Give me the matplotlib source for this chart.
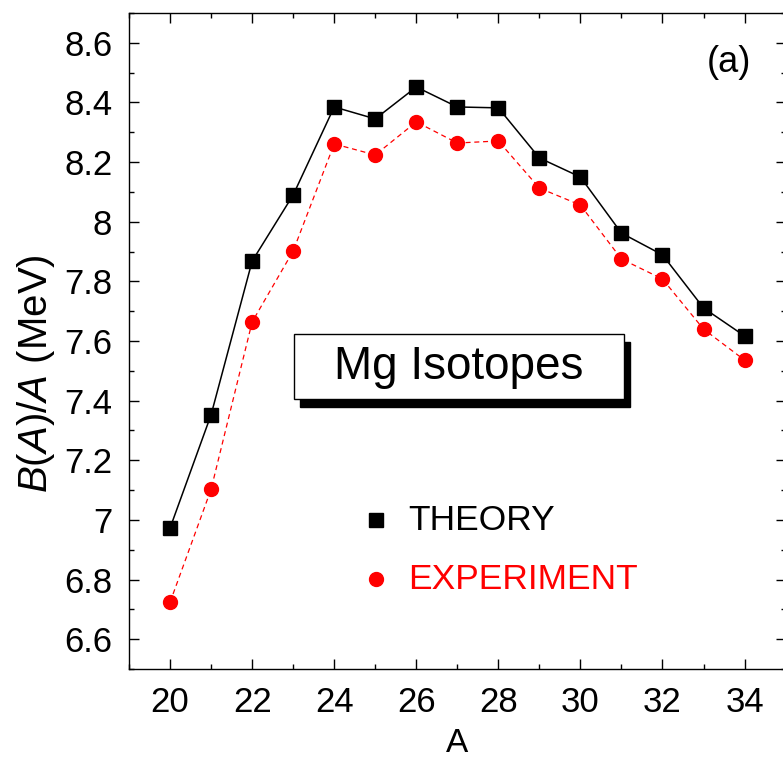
import matplotlib
matplotlib.use('Agg')
import matplotlib.pyplot as plt
from matplotlib.patches import Rectangle
from matplotlib.ticker import MultipleLocator

# binding energy per nucleon of the Mg chain
mass_number = [20, 21, 22, 23, 24, 25, 26, 27, 28, 29, 30, 31, 32, 33, 34]
theory = [6.973, 7.353, 7.868, 8.090, 8.385, 8.345, 8.452, 8.385, 8.382,
          8.214, 8.150, 7.962, 7.889, 7.711, 7.617]
experiment = [6.724, 7.103, 7.664, 7.902, 8.261, 8.224, 8.335, 8.264, 8.271,
              8.113, 8.056, 7.875, 7.808, 7.640, 7.536]
series_labels = ['THEORY', 'EXPERIMENT']

plt.rcParams['font.family'] = ['Liberation Sans', 'DejaVu Sans']
plt.rcParams['mathtext.fontset'] = 'custom'
plt.rcParams['mathtext.rm'] = 'Liberation Sans'
plt.rcParams['mathtext.it'] = 'Liberation Sans:italic'

fig = plt.figure(figsize=(7.83, 7.62), dpi=100)
ax = fig.add_axes([0.1648, 0.1220, 0.8385, 0.8609])

ax.plot(mass_number, theory, color='black', lw=1.1, marker='s', ms=9.5,
        zorder=3)
ax.plot(mass_number, experiment, color='red', lw=0.9, ls=(0, (4, 3)),
        marker='o', ms=10, zorder=3)

ax.set_xlim(19, 35)
ax.set_ylim(6.5, 8.7)
ax.xaxis.set_major_locator(MultipleLocator(2))
ax.xaxis.set_minor_locator(MultipleLocator(1))
ax.yaxis.set_minor_locator(MultipleLocator(0.1))
ax.set_yticks([6.6, 6.8, 7.0, 7.2, 7.4, 7.6, 7.8, 8.0, 8.2, 8.4, 8.6])
ax.set_yticklabels(['6.6', '6.8', '7', '7.2', '7.4', '7.6', '7.8', '8',
                    '8.2', '8.4', '8.6'])
ax.tick_params(which='both', direction='in', top=True, right=True,
               width=1.0, labelsize=25)
ax.tick_params(which='major', length=7)
ax.tick_params(which='minor', length=3.5)
ax.tick_params(axis='x', pad=12)
ax.tick_params(axis='y', pad=12)
for sp in ax.spines.values():
    sp.set_linewidth(1.0)

ax.set_xlabel('A', fontsize=24, labelpad=7)
ax.set_ylabel(r'$B$($A$)/$A$ (MeV)', fontsize=29)
ax.yaxis.set_label_coords(-0.11, 0.45)

ax.text(0.914, 0.924, '(a)', transform=ax.transAxes, fontsize=26,
        ha='center', va='center')

# title box with drop shadow
bx, by, bw, bh = 0.2508, 0.4116, 0.503, 0.0991
ax.add_patch(Rectangle((bx + 0.0092, by - 0.0122), bw, bh,
                       transform=ax.transAxes, facecolor='black',
                       edgecolor='black', zorder=4))
ax.add_patch(Rectangle((bx, by), bw, bh, transform=ax.transAxes,
                       facecolor='white', edgecolor='black', lw=1.0,
                       zorder=5))
ax.text(bx + bw / 2, by + bh / 2, 'Mg Isotopes', transform=ax.transAxes,
        fontsize=33, ha='center', va='center', zorder=6)

# legend keys
ax.plot([0.376], [0.227], transform=ax.transAxes, marker='s', ms=9.5,
        color='black', ls='none')
ax.plot([0.376], [0.137], transform=ax.transAxes, marker='o', ms=10,
        color='red', ls='none')
ax.text(0.425, 0.227, series_labels[0], transform=ax.transAxes,
        fontsize=25.5, ha='left', va='center', color='black')
ax.text(0.425, 0.137, series_labels[1], transform=ax.transAxes,
        fontsize=25.5, ha='left', va='center', color='red')

fig.savefig('out.png', dpi=100)
